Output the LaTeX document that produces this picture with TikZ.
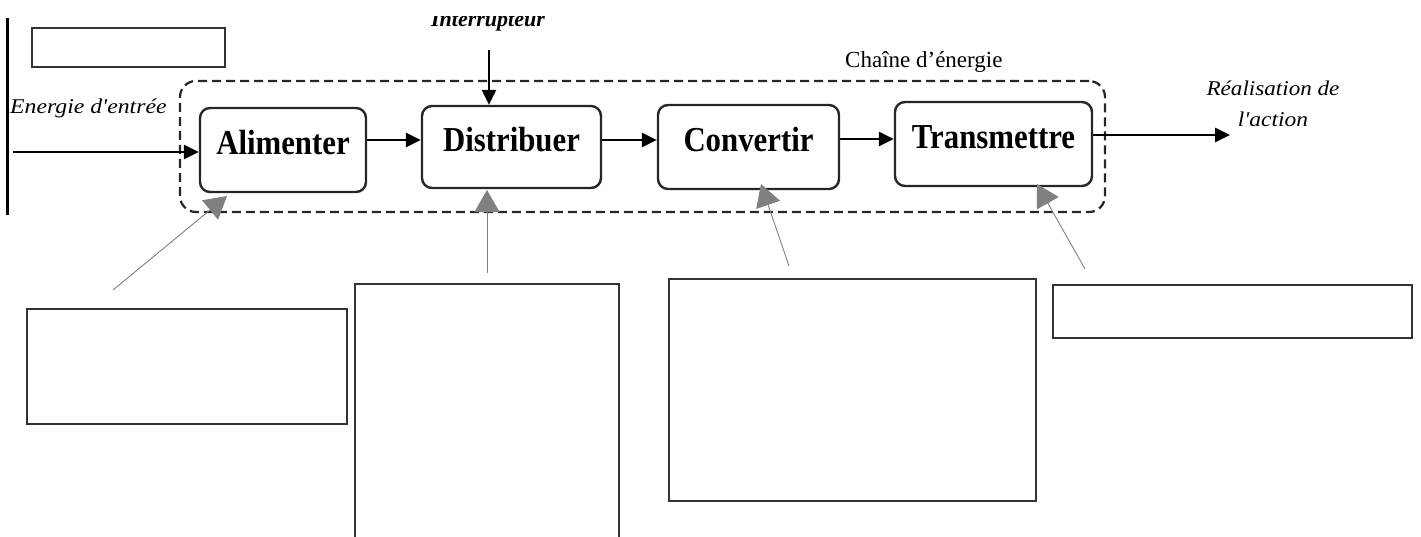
\documentclass[tikz,border=0pt]{standalone}
\usepackage{fontspec}
\setmainfont{Liberation Serif}
\usepackage{graphicx}
\usetikzlibrary{arrows.meta}
\newcommand\hsc[2]{\scalebox{#1}[1]{#2}}
\begin{document}
\begin{tikzpicture}[x=1pt,y=-1pt,
  blk/.style={draw=black!85, line width=2.4pt, rounded corners=10pt, inner sep=0pt,
    text height=23pt, text depth=14pt, font=\fontsize{35}{40}\selectfont\bfseries},
  emptybox/.style={draw=black!80, line width=1.2pt},
  flow/.style={line width=2.8pt, -{Triangle[length=15pt,width=14pt]}},
  note/.style={draw=gray, line width=0.9pt, -{Triangle[length=22pt,width=25pt]}},
  chainbox/.style={draw=black!85, line width=2.2pt, dash pattern=on 9pt off 5pt, rounded corners=16pt, inner sep=0pt},
  itxt/.style={inner sep=0pt, font=\fontsize{21}{25}\selectfont\itshape}
]
\useasboundingbox (0,0) rectangle (1421,536);

% left bar
\draw[line width=3pt] (7.5,18) -- (7.5,215);

% top-left empty box
\node[emptybox, minimum width=193pt, minimum height=39pt, inner sep=0pt] (topbox) at (128.5,47.5) {};

% dashed chain box
\node[chainbox, minimum width=925pt, minimum height=131pt] (chain) at (642.5,146.5) {};
\node[anchor=base west, inner sep=0pt, font=\fontsize{23}{27}\selectfont] (chaintxt) at (845,67) {Chaîne d’énergie};

% function blocks
\node[blk, minimum width=166pt, minimum height=84pt] (alim) at (283,150) {\hsc{0.88}{Alimenter}};
\node[blk, minimum width=179pt, minimum height=82pt] (distr) at (511.5,147) {\hsc{0.88}{Distribuer}};
\node[blk, minimum width=181pt, minimum height=84pt] (conv) at (748.5,147) {\hsc{0.88}{Convertir}};
\node[blk, minimum width=197pt, minimum height=84pt] (trans) at (993.5,144) {\hsc{0.88}{Transmettre}};

% Interrupteur (top clipped)
\begin{scope}
\clip (400,16) rectangle (600,45);
\node[anchor=base, inner sep=0pt, font=\fontsize{22}{26}\selectfont\bfseries\itshape] (intr) at (488,26) {Interrupteur};
\end{scope}
\coordinate (intop) at (489,50);
\draw[flow] (intop) -- (intop |- distr.north);

% input
\node[itxt, anchor=base west] (eintxt) at (10,113) {\hsc{1.13}{Energie d\textquotesingle entrée}};
\coordinate (ein) at (13,152);
\draw[flow] (ein) -- (ein -| alim.west);

% chain arrows
\coordinate (r1) at (0,140);
\coordinate (r2) at (0,139);
\coordinate (r3) at (0,135);
\draw[flow] (alim.east |- r1) -- (distr.west |- r1);
\draw[flow] (distr.east |- r1) -- (conv.west |- r1);
\draw[flow] (conv.east |- r2) -- (trans.west |- r2);
\coordinate (out) at (1230,135);
\draw[flow] (trans.east |- r3) -- (out);

\node[itxt, anchor=base] (real1) at (1273,95) {\hsc{1.1}{Réalisation de}};
\node[itxt, anchor=base] (real2) at (1273,126) {\hsc{1.12}{l\textquotesingle action}};

% annotation boxes
\node[emptybox, minimum width=320pt, minimum height=115pt, inner sep=0pt] (boxA) at (187,366.5) {};
\node[emptybox, minimum width=264pt, minimum height=266pt, inner sep=0pt] (boxD) at (487,417) {};
\node[emptybox, minimum width=367pt, minimum height=222pt, inner sep=0pt] (boxC) at (852.5,390) {};
\node[emptybox, minimum width=359pt, minimum height=53pt, inner sep=0pt] (boxT) at (1232.5,311.5) {};

% pointer lines
\coordinate (pA) at (113,290);
\coordinate (tA) at (227,196);
\coordinate (pD) at (487,273);
\coordinate (tD) at (487,190);
\coordinate (pC) at (789,266);
\coordinate (tC) at (761,184);
\coordinate (pT) at (1085,269);
\coordinate (tT) at (1037,184);
\draw[note] (pA) -- (tA);
\draw[note] (pD) -- (tD);
\draw[note] (pC) -- (tC);
\draw[note] (pT) -- (tT);
\end{tikzpicture}
\end{document}
